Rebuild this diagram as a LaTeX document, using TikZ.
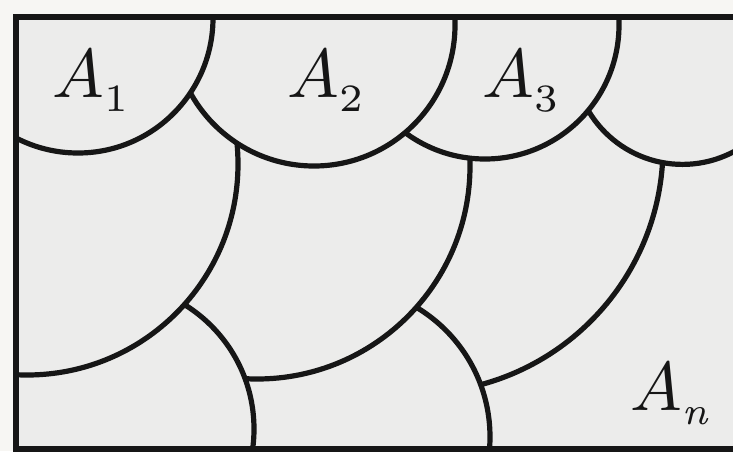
\documentclass[tikz,border=0pt]{standalone}
\definecolor{paper}{RGB}{236,236,235}
\definecolor{margin}{RGB}{247,246,243}
\definecolor{ink}{RGB}{22,22,22}
\newcommand{\subsz}[1]{\raisebox{-0.6pt}{\fontsize{5.6}{6}\selectfont #1}}
\begin{document}
\begin{tikzpicture}[x=1pt,y=-1pt,
  scalearc/.style={line width=5.2pt, draw=ink, fill=paper},
  frame/.style={line width=6pt, draw=ink, line join=miter},
  lbl/.style={anchor=base west, inner sep=0pt, scale=6.9, text=ink, font=\fontsize{10}{12}\selectfont}]
\useasboundingbox (0,0) rectangle (733,451);
\fill[margin] (0,0) rectangle (733,451);
\begin{scope}
  \clip (15.5,16.5) rectangle (745,448.5);
  \fill[paper] (15.5,16.5) rectangle (745,448.5);
  % back to front
  \filldraw[scalearc] (417,147) circle[radius=246pt]; % S
  \filldraw[scalearc] (339,437) circle[radius=151pt]; % C2
  \filldraw[scalearc] (257,166) circle[radius=213pt]; % Q
  \filldraw[scalearc] (108,429) circle[radius=146pt]; % C1
  \filldraw[scalearc] (27,164) circle[radius=211pt];  % P
  \filldraw[scalearc] (682.5,55) circle[radius=109.4pt]; % A4
  \filldraw[scalearc] (485,25) circle[radius=134pt];  % A3
  \filldraw[scalearc] (314,25) circle[radius=141pt];  % A2
  \filldraw[scalearc] (78,18) circle[radius=135pt];   % A1
\end{scope}
\draw[frame] (745,16.5) -- (15.5,16.5) -- (15.5,448.5) -- (745,448.5);
\node[lbl] (a1) at (51,97) {$A_{\subsz{1}}$};
\node[lbl] (a2) at (286,97) {$A_{\subsz{2}}$};
\node[lbl] (a3) at (481,97) {$A_{\subsz{3}}$};
\node[lbl] (an) at (629,410) {$A_{\subsz{\itshape n}}$};
\end{tikzpicture}
\end{document}
